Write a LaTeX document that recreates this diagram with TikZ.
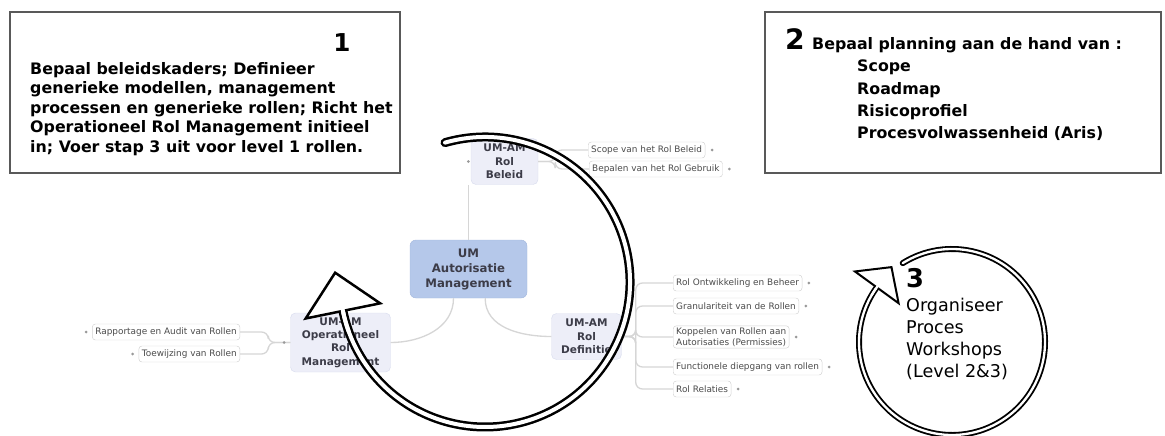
\documentclass[tikz,border=0pt]{standalone}
\usepackage{fontspec}
\setmainfont{DejaVu Sans}
\usepackage{tikz}
\usetikzlibrary{positioning,calc}
\definecolor{hubblue}{HTML}{B5C8EA}
\definecolor{hubline}{HTML}{A4B9DE}
\definecolor{branchfill}{HTML}{EDEEF8}
\definecolor{branchline}{HTML}{DADDEE}
\definecolor{leafline}{HTML}{D2D2D2}
\definecolor{linkgray}{HTML}{D6D6D6}
\definecolor{mmtext}{HTML}{3C3C48}
\tikzstyle{note}=[rectangle,draw=black!65,line width=0.045cm,inner sep=0pt]
\tikzstyle{bignum}=[anchor=base,inner sep=0pt,font=\fontsize{22}{22}\selectfont\bfseries]
\tikzstyle{notetext}=[anchor=north west,inner sep=0pt,align=left]
\tikzstyle{hub}=[rectangle,rounded corners=0.18cm,fill=hubblue,draw=hubline,
              text=mmtext,align=center,font=\fontsize{10}{12.8}\selectfont\bfseries]
\tikzstyle{branch}=[rectangle,rounded corners=0.15cm,fill=branchfill,draw=branchline,
              text=mmtext,align=center,font=\fontsize{9}{11.4}\selectfont\bfseries]
\tikzstyle{leaf}=[rectangle,rounded corners=0.09cm,fill=white,draw=leafline,text=black!70,
              align=left,inner xsep=0.09cm,inner ysep=0.05cm,minimum height=0.48cm,
              font=\fontsize{7.6}{9.4}\selectfont]
\tikzstyle{link}=[draw=linkgray,line width=0.04cm,rounded corners=0.2cm]
\tikzstyle{knob}=[circle,fill=black!40,inner sep=0pt,minimum size=0.09cm]
\tikzstyle{rim}=[draw=black,line cap=round]
\tikzstyle{core}=[draw=white,line cap=round]
\tikzstyle{head}=[fill=white,draw=black,line join=miter]

\begin{document}
\begin{tikzpicture}[x=0.03cm,y=0.03cm]
	\useasboundingbox (0,0) rectangle (1165,435);

	\node[note,minimum width=11.7cm,minimum height=4.83cm] (box1) at (205,342.5) {};
	\node[bignum,font=\fontsize{21}{21}\selectfont\bfseries] (num1) at (342,384) {1};
	\node[notetext,font=\fontsize{13.5}{16.6}\selectfont\bfseries] (text1) at (30,373)
		{Bepaal beleidskaders; Definieer\\generieke modellen, management\\processen en generieke rollen; Richt het\\Operationeel Rol Management initieel\\in; Voer stap 3 uit voor level 1 rollen.};

	\node[note,minimum width=11.88cm,minimum height=4.83cm] (box2) at (963,342.5) {};
	\node[bignum,font=\fontsize{24}{24}\selectfont\bfseries] (num2) at (795,385) {2};
	\node[anchor=base west,inner sep=0pt,font=\fontsize{13.5}{16}\selectfont\bfseries] (head2) at (812,385)
		{Bepaal planning aan de hand van :};
	\node[notetext,font=\fontsize{13.5}{18.8}\selectfont\bfseries] (list2) at (857,375)
		{Scope\\Roadmap\\Risicoprofiel\\Procesvolwassenheid (Aris)};

	\node[hub,minimum width=3.51cm,minimum height=1.74cm] (hub) at (468.5,166) {UM\\Autorisatie\\Management};
	\node[branch,minimum width=2.01cm,minimum height=1.38cm] (beleid) at (504.5,273.5) {UM-AM\\Rol\\Beleid};
	\node[branch,minimum width=3cm,minimum height=1.77cm] (oper) at (340.5,92.5) {UM-AM\\Operationeel\\Rol\\Management};
	\node[branch,minimum width=2.1cm,minimum height=1.38cm] (defin) at (586.5,98.5) {UM-AM\\Rol\\Definitie};

	\node[leaf,anchor=west] (scope) at (588,285) {Scope van het Rol Beleid};
	\node[leaf,anchor=west] (gebruik) at (589,266) {Bepalen van het Rol Gebruik};
	\node[leaf,anchor=west] (ontw) at (673,152) {Rol Ontwikkeling en Beheer};
	\node[leaf,anchor=west] (gran) at (673,129) {Granulariteit van de Rollen};
	\node[leaf,anchor=west] (kopp) at (673,98) {Koppelen van Rollen aan\\Autorisaties (Permissies)};
	\node[leaf,anchor=west] (func) at (673,68) {Functionele diepgang van rollen};
	\node[leaf,anchor=west] (relat) at (673,46) {Rol Relaties};
	\node[leaf,anchor=east] (rapp) at (240,103) {Rapportage en Audit van Rollen};
	\node[leaf,anchor=east] (toew) at (240,81) {Toewijzing van Rollen};

	\draw[link] (hub.north) -- (hub.north |- beleid.south);
	\draw[link] ([xshift=0.5cm]hub.south) to[out=-90,in=180] (defin.west);
	\draw[link] ([xshift=-0.45cm]hub.south) to[out=-90,in=0] (oper.east);
	\foreach \nm in {scope,gebruik}
		\draw[link] (beleid.east) -- ++(17,0) |- (\nm.west);
	\foreach \nm in {ontw,gran,kopp,func,relat}
		\draw[link] (defin.east) -- ++(14,0) |- (\nm.west);
	\foreach \nm in {rapp,toew}
		\draw[link] (oper.west) -- ++(-22,0) |- (\nm.east);

	\foreach \nm in {scope,gebruik,ontw,gran,kopp,func,relat}
		\node[knob,right=0.15cm of \nm] (k\nm) {};
	\foreach \nm in {rapp,toew,oper}
		\node[knob,left=0.13cm of \nm] (k\nm) {};
	\node[knob,left=0.02cm of beleid] (kbeleid) {};

	\node[bignum,anchor=base west] (num3) at (906,148) {3};
	\node[notetext,font=\fontsize{15}{18.8}\selectfont] (text3) at (906,137)
		{Organiseer\\Proces\\Workshops\\(Level 2\&3)};

	\coordinate (bigc) at (485,153);
	\coordinate (smallc) at (952,93);

	\draw[rim,line width=0.27cm] ($(bigc)+(106:145)$) arc[start angle=106,end angle=-168.5,radius=145];
	\draw[core,line width=0.12cm] ($(bigc)+(106:145)$) arc[start angle=106,end angle=-168.5,radius=145];
	\draw[head,line width=0.075cm] ($(bigc)+(191.5:183)$) -- ($(bigc)+(191.5:145)+(101.5:39)$)
		-- ($(bigc)+(191.5:107)$) -- cycle;
	\draw[draw=white,line width=0.12cm] ($(bigc)+(-160:145)$) arc[start angle=-160,end angle=-169.5,radius=145];

	\draw[rim,line width=0.18cm] ($(smallc)+(122:93)$) arc[start angle=122,end angle=-216,radius=93];
	\draw[core,line width=0.07cm] ($(smallc)+(122:93)$) arc[start angle=122,end angle=-216,radius=93];
	\draw[head,line width=0.06cm] ($(smallc)+(144:120)$) -- ($(smallc)+(144:93)+(54:25)$)
		-- ($(smallc)+(144:66)$) -- cycle;
	\draw[draw=white,line width=0.07cm] ($(smallc)+(150:93)$) arc[start angle=150,end angle=143,radius=93];
\end{tikzpicture}
\end{document}
